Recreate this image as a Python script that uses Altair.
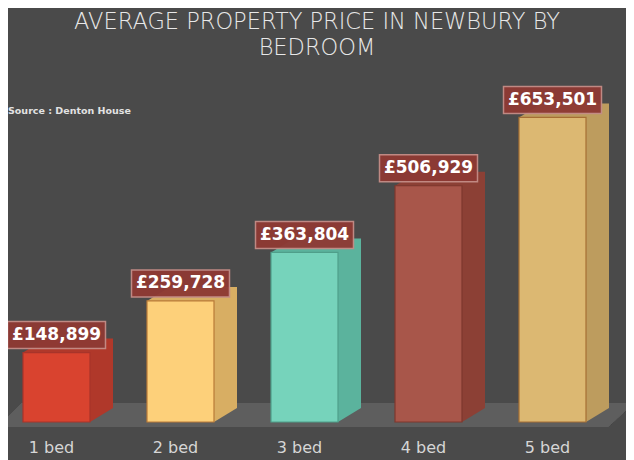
import altair as alt
import pandas as pd

# ---- data ----
beds = ["1 bed", "2 bed", "3 bed", "4 bed", "5 bed"]
prices = [148899, 259728, 363804, 506929, 653501]
labels = ["£148,899", "£259,728", "£363,804", "£506,929", "£653,501"]
front_colors = ["#d9432f", "#fdd07a", "#76d3bb", "#a8564a", "#dcb872"]
side_colors = ["#b0382a", "#d8ae63", "#5bb39d", "#8c4035", "#bd9c5e"]
edge_colors = ["#a8342a", "#b97b38", "#4f9f8a", "#7e372d", "#a66f34"]
title_lines = ["AVERAGE PROPERTY PRICE IN NEWBURY BY", "BEDROOM"]
source_text = ["Source : Denton House"]

df = pd.DataFrame({"bed": beds, "price": prices, "label": labels})
src = pd.DataFrame({"src": source_text})

BG = "#4a4a4a"
FLOOR = "#5e5e5e"
W, H = 618, 314

xscale = alt.Scale(domain=beds, range=[-13.5, 606.5], paddingInner=0, paddingOuter=0)
yscale = alt.Scale(domain=[0, 673800], nice=False, zero=True)

x = alt.X("bed:N", scale=xscale, sort=beds,
          axis=alt.Axis(title=None, ticks=False, domain=False, labelAngle=0,
                        labelFontSize=16, labelColor="#d6d6d6", labelFont="DejaVu Sans",
                        labelPadding=17, labelOffset=-5))
y = alt.Y("price:Q", scale=yscale, axis=None, stack=None)
y0 = alt.Y("zero:Q", scale=yscale, axis=None, stack=None)

side_scale = alt.Scale(domain=beds, range=side_colors)
front_scale = alt.Scale(domain=beds, range=front_colors)

base = alt.Chart(df).transform_calculate(zero="0")

floor_path = "M -0.9245 -0.0377 L 1 -0.0377 L 0.918 0.0377 L -1 0.0377 Z"
floor = base.mark_point(shape=floor_path, size=404496, filled=True, opacity=1,
                        strokeWidth=0, color=FLOOR, yOffset=-7).encode(
    x=alt.value(308), y=y0)

side = base.mark_bar(width=67, xOffset=23, yOffset=-14, y2Offset=-14).encode(
    x=x, y=y, y2=alt.Y2("zero:Q"),
    color=alt.Color("bed:N", scale=side_scale, legend=None))

tri_tl = "M -1 0.6087 L 1 -0.6087 L 1 0.6087 Z"
tri_br = "M -1 -0.6087 L 1 -0.6087 L -1 0.6087 Z"
top_tri = base.mark_point(shape=tri_tl, size=529, filled=True, opacity=1,
                          strokeWidth=0, xOffset=-22, yOffset=-7).encode(
    x=x, y=y, fill=alt.Fill("bed:N", scale=side_scale, legend=None))
bot_tri = base.mark_point(shape=tri_br, size=529, filled=True, opacity=1,
                          strokeWidth=0, xOffset=45, yOffset=-7).encode(
    x=x, y=y0, fill=alt.Fill("bed:N", scale=side_scale, legend=None))

front = base.mark_bar(width=67, strokeWidth=1.2).encode(
    x=x, y=y, y2=alt.Y2("zero:Q"),
    fill=alt.Fill("bed:N", scale=front_scale, legend=None),
    stroke=alt.Stroke("bed:N", scale=alt.Scale(domain=beds, range=edge_colors), legend=None))

box = base.mark_bar(width=98, yOffset=-31, y2Offset=-4, color="#8e3a34",
                    stroke="#c48c86", strokeWidth=1.5, opacity=0.96).encode(
    x=x, y=y, y2=alt.Y2("price:Q"))

txt = base.mark_text(yOffset=-17.5, baseline="middle", align="center",
                     font="DejaVu Sans", fontWeight="bold", fontSize=17,
                     color="#ffffff").encode(x=x, y=y, text="label:N")

source = alt.Chart(src).mark_text(align="left", baseline="middle", font="DejaVu Sans",
                                  fontSize=9.5, fontWeight="bold", color="#e2e2e2").encode(
    x=alt.value(0), y=alt.value(3), text="src:N")

chart = alt.layer(floor, side, top_tri, bot_tri, front, box, txt, source).resolve_scale(
    color="independent", fill="independent", stroke="independent"
).properties(
    width=W, height=H,
    background=BG,
    autosize=alt.AutoSizeParams(type="none"),
    padding={"left": 0, "top": 100, "right": 0, "bottom": 38},
    title=alt.TitleParams(text=title_lines, anchor="middle", fontSize=22.5,
                          font="DejaVu Sans", fontWeight=200, color="#e8e8e8",
                          lineHeight=26, offset=26),
).configure_view(stroke=None)

chart.save("out.html", embed_options={"renderer": "svg", "actions": False})
